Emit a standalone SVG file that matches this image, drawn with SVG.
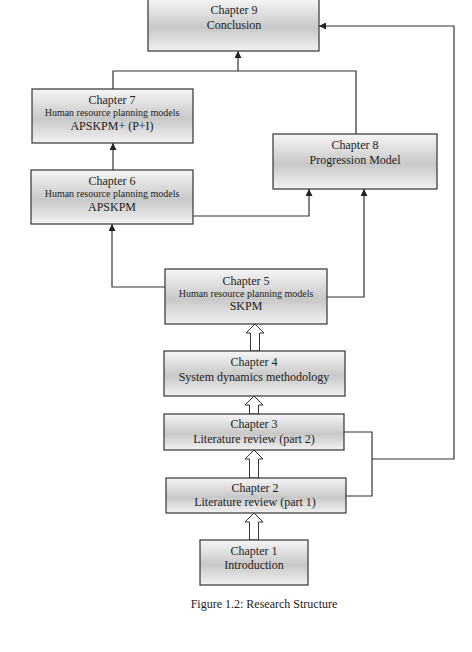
<svg xmlns="http://www.w3.org/2000/svg" width="472" height="652" viewBox="0 0 472 652">
<style>
.box{fill:url(#g);stroke:#333;stroke-width:1.2}
.t{font-family:"Liberation Serif","Times New Roman",serif;font-size:12px;fill:#222;text-anchor:middle}
.s{font-size:10px}
.c{fill:none;stroke:#333;stroke-width:1.2}
.h{fill:#fff;stroke:#333;stroke-width:1}
</style>
<defs>
<linearGradient id="g" x1="0" y1="0" x2="0" y2="1">
<stop offset="0" stop-color="#f6f6f6"/>
<stop offset="0.55" stop-color="#c8c8c8"/>
<stop offset="1" stop-color="#f2f2f2"/>
</linearGradient>
<marker id="a" viewBox="0 0 10 10" refX="10" refY="5" markerWidth="7" markerHeight="7" orient="auto" markerUnits="userSpaceOnUse">
<path d="M0,0 L10,5 L0,10 z" fill="#222"/>
</marker>
</defs>
<rect width="472" height="652" fill="#fff"/>
<g id="connectors">
<polyline class="c" points="356,134 356,71 113,71 113,89"/>
<line class="c" x1="238" y1="71" x2="238" y2="51" marker-end="url(#a)"/>
<line class="c" x1="113" y1="170" x2="113" y2="143" marker-end="url(#a)"/>
<polyline class="c" points="193,216 309,216 309,189" marker-end="url(#a)"/>
<polyline class="c" points="165,287 112,287 112,224" marker-end="url(#a)"/>
<polyline class="c" points="327,297 364,297 364,189" marker-end="url(#a)"/>
<polyline class="c" points="344,432 372,432 372,496 346,496"/>
<polyline class="c" points="372,459 454,459 454,26 319,26" marker-end="url(#a)"/>
<path class="h" d="M249.5,540 L249.5,522 L245,522 L254,513 L263,522 L258.5,522 L258.5,540 Z"/>
<path class="h" d="M249.5,478 L249.5,459 L245,459 L254,450 L263,459 L258.5,459 L258.5,478 Z"/>
<path class="h" d="M249.5,414 L249.5,405 L245,405 L254,396 L263,405 L258.5,405 L258.5,414 Z"/>
<path class="h" d="M250.5,351 L250.5,333 L246,333 L255,324 L264,333 L259.5,333 L259.5,351 Z"/>
</g>
<g id="ch9">
<rect class="box" x="148" y="-1" width="171" height="52"/>
<text class="t" x="234" y="14">Chapter 9</text>
<text class="t" x="234" y="29">Conclusion</text>
</g>
<g id="ch7">
<rect class="box" x="32" y="89" width="161" height="54"/>
<text class="t" x="112" y="104">Chapter 7</text>
<text class="t s" x="112" y="116">Human resource planning models</text>
<text class="t" x="112" y="130">APSKPM+ (P+I)</text>
</g>
<g id="ch6">
<rect class="box" x="31" y="170" width="162" height="54"/>
<text class="t" x="112" y="185">Chapter 6</text>
<text class="t s" x="112" y="197">Human resource planning models</text>
<text class="t" x="112" y="211">APSKPM</text>
</g>
<g id="ch8">
<rect class="box" x="273" y="134" width="164" height="55"/>
<text class="t" x="355" y="149">Chapter 8</text>
<text class="t" x="355" y="164">Progression Model</text>
</g>
<g id="ch5">
<rect class="box" x="165" y="269" width="162" height="55"/>
<text class="t" x="246" y="285">Chapter 5</text>
<text class="t s" x="246" y="297">Human resource planning models</text>
<text class="t" x="246" y="310">SKPM</text>
</g>
<g id="ch4">
<rect class="box" x="164" y="351" width="181" height="45"/>
<text class="t" x="254" y="366">Chapter 4</text>
<text class="t" x="254" y="381">System dynamics methodology</text>
</g>
<g id="ch3">
<rect class="box" x="164" y="414" width="180" height="36"/>
<text class="t" x="254" y="428">Chapter 3</text>
<text class="t" x="254" y="443">Literature review (part 2)</text>
</g>
<g id="ch2">
<rect class="box" x="166" y="478" width="180" height="35"/>
<text class="t" x="255" y="492">Chapter 2</text>
<text class="t" x="255" y="506">Literature review (part 1)</text>
</g>
<g id="ch1">
<rect class="box" x="200" y="540" width="108" height="45"/>
<text class="t" x="254" y="555">Chapter 1</text>
<text class="t" x="254" y="569">Introduction</text>
</g>
<text class="t" x="264" y="608">Figure 1.2: Research Structure</text>
</svg>
